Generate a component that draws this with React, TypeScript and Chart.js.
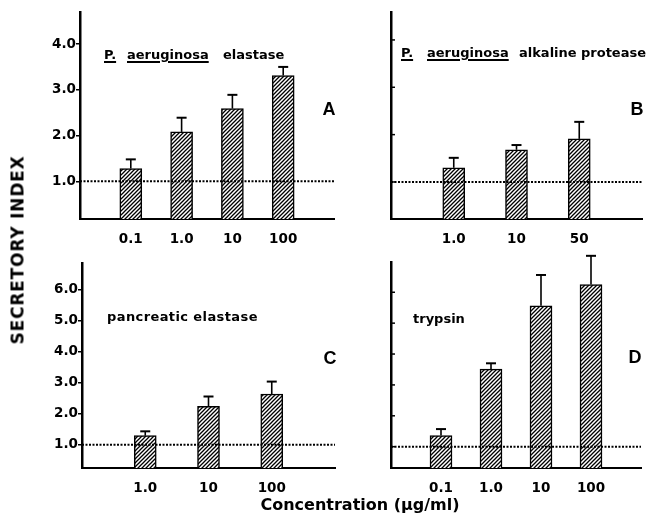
import React, { useEffect, useRef } from 'react';
import { Chart, registerables } from 'chart.js';

Chart.register(...registerables);

// ---- Data ----
const catsA = ['0.1', '1.0', '10', '100'];
const valuesA = [1.28, 2.08, 2.59, 3.31];
const errTopA = [1.48, 2.39, 2.89, 3.5];
const yTicksA = [1, 2, 3, 4];

const catsB = ['1.0', '10', '50'];
const valuesB = [1.3, 1.68, 1.91];
const errTopB = [1.51, 1.78, 2.27];
const yTicksB = [1, 2, 3, 4];

const catsC = ['1.0', '10', '100'];
const valuesC = [1.29, 2.23, 2.63];
const errTopC = [1.43, 2.55, 3.03];
const yTicksC = [1, 2, 3, 4, 5, 6];

const catsD = ['0.1', '1.0', '10', '100'];
const valuesD = [1.36, 3.51, 5.56, 6.25];
const errTopD = [1.57, 3.7, 6.56, 7.18];
const yTicksD = [1, 2, 3, 4, 5, 6];

const baseline = 1.0;

type Panel = {
  cats: string[];
  values: number[];
  errTop: number[];
  yTicks: number[];
  showLabels: boolean;
  yMin: number;
  yMax: number;
  box: { x: number; y: number; w: number; h: number };
  area: { l: number; r: number; t: number; b: number };
};

const panels: Panel[] = [
  { cats: catsA, values: valuesA, errTop: errTopA, yTicks: yTicksA, showLabels: true, yMin: 0.177, yMax: 4.7,
    box: { x: 0, y: 0, w: 340, h: 250 }, area: { l: 80, r: 334, t: 12, b: 219 } },
  { cats: catsB, values: valuesB, errTop: errTopB, yTicks: yTicksB, showLabels: false, yMin: 0.218, yMax: 4.59,
    box: { x: 340, y: 0, w: 306, h: 250 }, area: { l: 391, r: 642, t: 12, b: 219 } },
  { cats: catsC, values: valuesC, errTop: errTopC, yTicks: yTicksC, showLabels: true, yMin: 0.25, yMax: 6.845,
    box: { x: 0, y: 250, w: 340, h: 265 }, area: { l: 82, r: 335, t: 263, b: 468 } },
  { cats: catsD, values: valuesD, errTop: errTopD, yTicks: yTicksD, showLabels: false, yMin: 0.31, yMax: 6.98,
    box: { x: 340, y: 250, w: 306, h: 265 }, area: { l: 391, r: 641, t: 262, b: 468 } },
];

const FONT = 'DejaVu Sans';

function makeHatch(): CanvasPattern | string {
  const c = document.createElement('canvas');
  c.width = 4;
  c.height = 4;
  const g = c.getContext('2d');
  if (!g) return '#888';
  g.fillStyle = '#fff';
  g.fillRect(0, 0, 4, 4);
  g.strokeStyle = '#000';
  g.lineWidth = 1.3;
  g.beginPath();
  g.moveTo(-1, 5); g.lineTo(5, -1);
  g.moveTo(-1, 1); g.lineTo(1, -1);
  g.moveTo(3, 5); g.lineTo(5, 3);
  g.stroke();
  return g.createPattern(c, 'repeat') || '#888';
}

function PanelChart({ p }: { p: Panel }) {
  const ref = useRef<HTMLCanvasElement>(null);
  useEffect(() => {
    const canvas = ref.current;
    if (!canvas) return;
    const hatch = makeHatch();
    const yW = p.area.l - p.box.x;
    const padRight = p.box.x + p.box.w - p.area.r;
    const padTop = p.area.t - p.box.y;
    const xH = p.box.y + p.box.h - p.area.b;
    const labels = ['', ...p.cats, ''];
    const data = [null, ...p.values, null];
    const errs = [null, ...p.errTop, null];

    const overlay = {
      id: 'overlay',
      afterDatasetsDraw(chart: any) {
        const ctx = chart.ctx;
        const ys = chart.scales.y;
        const ca = chart.chartArea;
        const meta = chart.getDatasetMeta(0);
        ctx.save();
        ctx.strokeStyle = '#000';
        errs.forEach((e, i) => {
          const v = data[i];
          if (e == null || v == null) return;
          const el = meta.data[i];
          const x = el.x;
          const y1 = ys.getPixelForValue(v);
          const y2 = ys.getPixelForValue(e);
          ctx.lineWidth = 1.6;
          ctx.beginPath();
          ctx.moveTo(x, y1);
          ctx.lineTo(x, y2);
          ctx.stroke();
          ctx.lineWidth = 2;
          ctx.beginPath();
          ctx.moveTo(x - 5, y2);
          ctx.lineTo(x + 5, y2);
          ctx.stroke();
        });
        const yb = ys.getPixelForValue(baseline);
        ctx.setLineDash([2, 1.5]);
        ctx.lineWidth = 2;
        ctx.beginPath();
        ctx.moveTo(ca.left, yb);
        ctx.lineTo(ca.right, yb);
        ctx.stroke();
        ctx.setLineDash([]);
        if (!p.showLabels) {
          ctx.lineWidth = 1.5;
          p.yTicks.forEach((t) => {
            const yy = ys.getPixelForValue(t);
            ctx.beginPath();
            ctx.moveTo(ca.left, yy);
            ctx.lineTo(ca.left + 4, yy);
            ctx.stroke();
          });
        }
        ctx.restore();
      },
    };

    const tickFont = { family: FONT, weight: 'bold' as const, size: 13.5 };

    const chart = new Chart(canvas, {
      type: 'bar',
      data: {
        labels,
        datasets: [
          {
            data: data as any,
            backgroundColor: hatch as any,
            borderColor: '#000',
            borderWidth: 1.5,
            borderSkipped: false,
            barThickness: 22,
          },
        ],
      },
      options: {
        responsive: false,
        animation: false,
        devicePixelRatio: 1,
        layout: { padding: { left: 0, right: padRight, top: padTop, bottom: 0 } },
        plugins: {
          legend: { display: false },
          tooltip: { enabled: false },
          title: { display: false },
        },
        scales: {
          x: {
            type: 'category',
            offset: false,
            grid: { display: false, offset: false },
            border: { display: true, color: '#000', width: 2 },
            ticks: { color: '#000', font: tickFont, padding: 4, autoSkip: false, maxRotation: 0, minRotation: 0 },
            afterFit: (s: any) => { s.height = xH; },
          },
          y: {
            type: 'linear',
            min: p.yMin,
            max: p.yMax,
            afterBuildTicks: (s: any) => { s.ticks = p.yTicks.map((v) => ({ value: v })); },
            grid: { display: p.showLabels, drawOnChartArea: false, drawTicks: true, tickLength: 4, color: '#000', lineWidth: 1.5 },
            border: { display: true, color: '#000', width: 2.5 },
            ticks: {
              display: p.showLabels,
              color: '#000',
              font: tickFont,
              padding: 0,
              callback: (v: any) => Number(v).toFixed(1),
            },
            afterFit: (s: any) => { s.width = yW; },
          },
        },
      },
      plugins: [overlay],
    });
    return () => chart.destroy();
  }, [p]);
  return (
    <canvas
      ref={ref}
      width={p.box.w}
      height={p.box.h}
      style={{ position: 'absolute', left: p.box.x, top: p.box.y, width: p.box.w, height: p.box.h }}
    />
  );
}

const titleStyle: React.CSSProperties = {
  position: 'absolute',
  fontFamily: FONT,
  fontWeight: 'bold',
  fontSize: 13,
  lineHeight: 1,
  color: '#000',
  whiteSpace: 'nowrap',
};
const ul: React.CSSProperties = {
  textDecoration: 'underline',
  textDecorationThickness: '1.5px',
  textUnderlineOffset: '2px',
};
const letterStyle: React.CSSProperties = {
  position: 'absolute',
  fontFamily: 'Liberation Sans',
  fontWeight: 'bold',
  fontSize: 18,
  lineHeight: 1,
  color: '#000',
  transform: 'translate(-50%, -50%)',
};
const axisTitle: React.CSSProperties = {
  position: 'absolute',
  fontFamily: FONT,
  fontWeight: 'bold',
  fontSize: 16,
  lineHeight: 1,
  color: '#000',
  whiteSpace: 'nowrap',
};

export default function App() {
  return (
    <div style={{ position: 'absolute', left: 0, top: 0, width: 646, height: 515, background: '#fff', overflow: 'hidden' }}>
      {panels.map((p, i) => (
        <PanelChart key={i} p={p} />
      ))}
      <span style={{ ...titleStyle, ...ul, left: 104, top: 48 }}>P.</span>
      <span style={{ ...titleStyle, ...ul, left: 127, top: 48 }}>aeruginosa</span>
      <span style={{ ...titleStyle, left: 223, top: 48 }}>elastase</span>
      <span style={{ ...titleStyle, ...ul, left: 401, top: 46 }}>P.</span>
      <span style={{ ...titleStyle, ...ul, left: 427, top: 46 }}>aeruginosa</span>
      <span style={{ ...titleStyle, left: 519, top: 46 }}>alkaline</span>
      <span style={{ ...titleStyle, left: 581, top: 46 }}>protease</span>
      <span style={{ ...titleStyle, left: 107, top: 310, letterSpacing: '0.4px' }}>pancreatic elastase</span>
      <span style={{ ...titleStyle, left: 413, top: 312 }}>trypsin</span>
      <span style={{ ...letterStyle, left: 329, top: 109 }}>A</span>
      <span style={{ ...letterStyle, left: 637, top: 109 }}>B</span>
      <span style={{ ...letterStyle, left: 330, top: 358 }}>C</span>
      <span style={{ ...letterStyle, left: 635, top: 357 }}>D</span>
      <div style={{ ...axisTitle, fontSize: 17, letterSpacing: '0.8px', left: 18, top: 250, transform: 'translate(-50%, -50%) rotate(-90deg)' }}>
        SECRETORY INDEX
      </div>
      <div style={{ ...axisTitle, left: 360, top: 497, transform: 'translateX(-50%)' }}>
        Concentration (µg/ml)
      </div>
    </div>
  );
}
